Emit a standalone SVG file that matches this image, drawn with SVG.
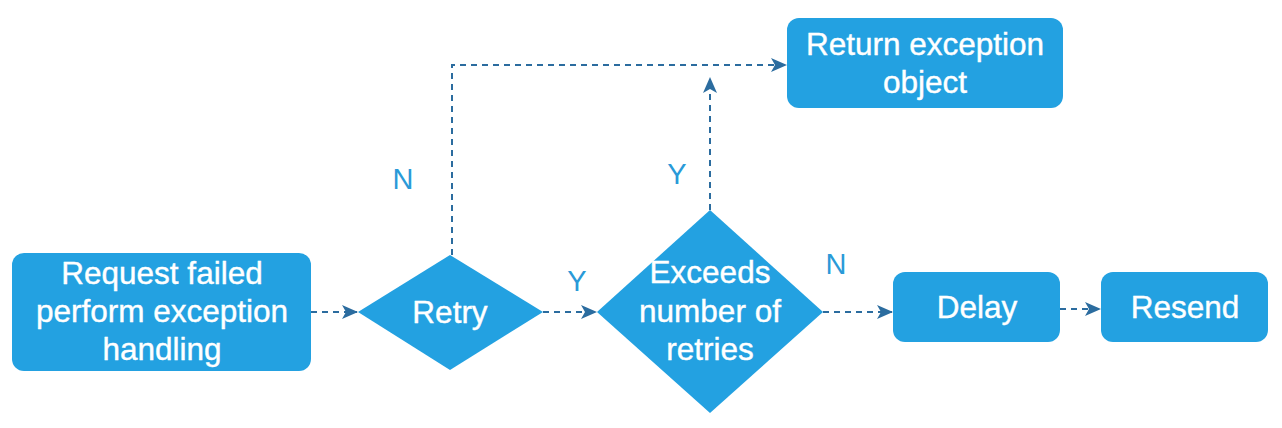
<svg xmlns="http://www.w3.org/2000/svg" width="1282" height="428" viewBox="0 0 1282 428">
<defs>
<style>
.node{fill:#23a1e1;}
.t{font-family:"Liberation Sans",Arial,sans-serif;font-size:31.5px;fill:#ffffff;stroke:#ffffff;stroke-width:0.4;text-anchor:middle;}
.lbl{font-family:"Liberation Sans",Arial,sans-serif;font-size:29px;fill:#2a9ad8;text-anchor:middle;}
.c{fill:none;stroke:#2b6c9f;stroke-width:2;stroke-dasharray:6,5;}
</style>
<marker id="ah" viewBox="0 0 16 14" refX="15" refY="7" markerWidth="16" markerHeight="14" markerUnits="userSpaceOnUse" orient="auto">
<path d="M0,0 L16,7 L0,14 L4,7 Z" fill="#2b6c9f"/>
</marker>
</defs>
<rect width="1282" height="428" fill="#ffffff"/>
<g id="connectors">
<path class="c" d="M311,312 L357,312" marker-end="url(#ah)"/>
<path class="c" d="M543,312 L596,312" marker-end="url(#ah)"/>
<path class="c" d="M452,255 L452,65 L786,65" marker-end="url(#ah)"/>
<path class="c" d="M710,210 L710,78" marker-end="url(#ah)"/>
<path class="c" d="M823,312 L892,312" marker-end="url(#ah)"/>
<path class="c" d="M1060,309 L1100,309" marker-end="url(#ah)"/>
</g>
<g id="labels">
<text class="lbl" x="403" y="189">N</text>
<text class="lbl" x="577" y="291">Y</text>
<text class="lbl" x="677" y="184">Y</text>
<text class="lbl" x="836" y="274">N</text>
</g>
<g id="start">
<rect class="node" x="12" y="253" width="299" height="118" rx="12"/>
<text class="t" x="162" y="284">Request failed</text>
<text class="t" x="162" y="322">perform exception</text>
<text class="t" x="162" y="360">handling</text>
</g>
<g id="retry">
<path class="node" d="M358,312 L450,255 L543,312 L450,370 Z"/>
<text class="t" x="450" y="323">Retry</text>
</g>
<g id="exceeds">
<path class="node" d="M597,312 L710,210 L823,312 L710,413 Z"/>
<text class="t" x="710" y="283">Exceeds</text>
<text class="t" x="710" y="322">number of</text>
<text class="t" x="710" y="360">retries</text>
</g>
<g id="return">
<rect class="node" x="787" y="18" width="276" height="90" rx="12"/>
<text class="t" x="925" y="55">Return exception</text>
<text class="t" x="925" y="93">object</text>
</g>
<g id="delay">
<rect class="node" x="893" y="272" width="167" height="70" rx="12"/>
<text class="t" x="977" y="318">Delay</text>
</g>
<g id="resend">
<rect class="node" x="1101" y="272" width="167" height="70" rx="12"/>
<text class="t" x="1185" y="318">Resend</text>
</g>
</svg>
